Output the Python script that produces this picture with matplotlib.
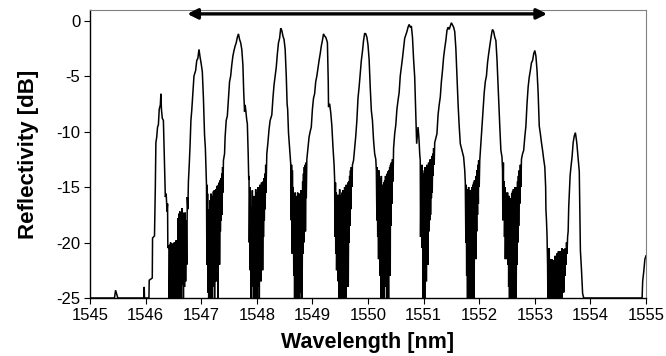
import matplotlib
matplotlib.use("Agg")
import matplotlib.pyplot as plt
import numpy as np

plt.rcParams['font.family'] = ['Liberation Sans', 'DejaVu Sans']
plt.rcParams['axes.unicode_minus'] = False

# ---- data: (wavelength nm, reflectivity dB) ----
seg_start = [
    (1545.000, -19.6), (1545.004, -25), (1545.44, -25), (1545.46, -24.3), (1545.50, -25),
    (1545.97, -25), (1545.975, -24.0), (1545.98, -25), (1546.06, -25), (1546.065, -23.4),
    (1546.12, -23.2), (1546.125, -19.6), (1546.16, -19.4), (1546.175, -15), (1546.185, -11.0),
    (1546.20, -10.5), (1546.215, -9.6), (1546.23, -9.4), (1546.245, -8.0), (1546.265, -7.6),
    (1546.275, -6.6), (1546.285, -8.0), (1546.30, -8.8), (1546.32, -9.0), (1546.34, -13),
    (1546.355, -15.9), (1546.37, -15.6), (1546.385, -17.2), (1546.395, -16.5), (1546.40, -20.5),
]
valley_1 = [
    (1546.42, -20.3), (1546.425, -25), (1546.435, -20.2), (1546.44, -25), (1546.45, -20.0),
    (1546.455, -24.5), (1546.465, -20.3), (1546.47, -25), (1546.48, -20.1), (1546.49, -24.8),
    (1546.50, -20.4), (1546.505, -25), (1546.515, -20.0), (1546.52, -24.0), (1546.53, -20.3),
    (1546.54, -25), (1546.55, -19.8), (1546.555, -24.6), (1546.565, -20.0), (1546.57, -25),
    (1546.585, -17.8), (1546.59, -24.0), (1546.60, -17.4), (1546.605, -25), (1546.615, -17.2),
    (1546.62, -22.5), (1546.63, -17.5), (1546.64, -25), (1546.655, -16.9), (1546.66, -23.8),
    (1546.67, -17.3), (1546.68, -25), (1546.69, -17.6), (1546.70, -24.0), (1546.71, -17.3),
    (1546.72, -23.5), (1546.73, -18.0), (1546.74, -22.0),
]
peak_2 = [
    (1546.75, -15.9), (1546.76, -17.0), (1546.77, -14.5), (1546.785, -13.0), (1546.80, -11.2),
    (1546.815, -9.0), (1546.83, -8.1), (1546.85, -6.5), (1546.87, -5.0), (1546.90, -4.5),
    (1546.92, -3.6), (1546.94, -3.4), (1546.96, -2.6), (1546.98, -3.3), (1547.00, -3.9),
    (1547.02, -4.6), (1547.04, -7.0), (1547.06, -10.3), (1547.075, -11.5), (1547.085, -13.3),
    (1547.095, -14.8),
]
valley_2 = [
    (1547.10, -20.0), (1547.102, -14.8), (1547.105, -22.0), (1547.115, -15.6), (1547.12, -24.5),
    (1547.13, -17.0), (1547.135, -25), (1547.145, -18.5), (1547.15, -23.0), (1547.16, -16.2),
    (1547.165, -25), (1547.175, -15.6), (1547.18, -22.5), (1547.19, -15.8), (1547.195, -25),
    (1547.205, -16.0), (1547.21, -21.5), (1547.22, -15.4), (1547.225, -24.0), (1547.235, -15.3),
    (1547.24, -25), (1547.25, -15.6), (1547.255, -20.5), (1547.265, -15.2), (1547.27, -23.5),
    (1547.28, -14.9), (1547.285, -21.0), (1547.295, -15.2), (1547.30, -25), (1547.31, -14.8),
    (1547.315, -20.0), (1547.325, -14.6), (1547.33, -22.0), (1547.34, -14.4), (1547.345, -19.0),
    (1547.355, -14.2), (1547.36, -18.0), (1547.37, -13.8), (1547.375, -17.5), (1547.385, -13.2),
    (1547.39, -15.5),
]
peak_3 = [
    (1547.40, -12.6), (1547.42, -12.0), (1547.43, -10.5), (1547.45, -9.0), (1547.47, -8.6),
    (1547.49, -7.0), (1547.51, -5.5), (1547.53, -5.0), (1547.55, -4.0), (1547.57, -3.2),
    (1547.59, -2.7), (1547.61, -2.3), (1547.63, -2.0), (1547.65, -1.5), (1547.67, -1.2),
    (1547.69, -1.7), (1547.71, -2.0), (1547.73, -2.6), (1547.75, -4.0), (1547.765, -6.5),
    (1547.78, -8.2), (1547.79, -7.6), (1547.80, -8.0), (1547.82, -9.0), (1547.83, -9.3),
    (1547.845, -12.0), (1547.855, -14.3),
]
valley_3 = [
    (1547.86, -14.0), (1547.865, -20.0), (1547.875, -15.0), (1547.88, -22.5), (1547.89, -16.8),
    (1547.895, -25), (1547.905, -17.5), (1547.91, -21.0), (1547.92, -15.3), (1547.925, -24.0),
    (1547.935, -16.0), (1547.94, -25), (1547.95, -15.8), (1547.955, -23.0), (1547.965, -16.5),
    (1547.97, -25), (1547.98, -15.2), (1547.985, -22.0), (1547.995, -16.0), (1548.00, -25),
    (1548.01, -15.5), (1548.015, -24.0), (1548.025, -15.0), (1548.03, -21.5), (1548.04, -15.2),
    (1548.045, -25), (1548.055, -14.8), (1548.06, -22.0), (1548.07, -15.5), (1548.075, -23.5),
    (1548.085, -14.6), (1548.09, -20.5), (1548.10, -15.0), (1548.105, -22.5), (1548.115, -14.5),
    (1548.12, -19.5), (1548.13, -14.2), (1548.135, -18.0), (1548.145, -13.8), (1548.15, -17.0),
    (1548.16, -13.0), (1548.165, -15.5),
]
peak_4 = [
    (1548.18, -12.0), (1548.20, -11.0), (1548.22, -9.8), (1548.24, -9.0), (1548.27, -8.5),
    (1548.29, -7.0), (1548.31, -5.8), (1548.33, -5.0), (1548.35, -4.2), (1548.37, -3.0),
    (1548.39, -2.0), (1548.41, -1.6), (1548.43, -0.7), (1548.45, -0.9), (1548.47, -1.4),
    (1548.49, -1.7), (1548.51, -2.6), (1548.53, -5.0), (1548.545, -7.5), (1548.555, -8.0),
    (1548.57, -10.1), (1548.59, -11.5), (1548.61, -12.9),
]
valley_4 = [
    (1548.62, -18.0), (1548.625, -13.0), (1548.635, -21.0), (1548.64, -13.5), (1548.65, -19.5),
    (1548.655, -15.0), (1548.665, -23.0), (1548.67, -16.0), (1548.68, -25), (1548.69, -15.5),
    (1548.695, -22.0), (1548.705, -15.8), (1548.71, -25), (1548.72, -16.0), (1548.725, -23.5),
    (1548.735, -15.5), (1548.74, -25), (1548.75, -16.2), (1548.755, -24.0), (1548.765, -15.6),
    (1548.77, -25), (1548.78, -15.8), (1548.785, -22.0), (1548.795, -15.3), (1548.80, -24.5),
    (1548.81, -15.6), (1548.815, -25), (1548.825, -14.5), (1548.83, -21.0), (1548.84, -13.8),
    (1548.845, -20.0), (1548.855, -13.2), (1548.86, -17.0), (1548.87, -13.0), (1548.875, -19.0),
    (1548.885, -12.8), (1548.89, -16.0), (1548.90, -12.5),
]
peak_5 = [
    (1548.92, -11.5), (1548.94, -10.5), (1548.96, -10.0), (1548.98, -9.6), (1549.00, -8.0),
    (1549.02, -7.0), (1549.04, -6.6), (1549.06, -5.5), (1549.08, -5.0), (1549.10, -4.3),
    (1549.12, -3.6), (1549.14, -3.0), (1549.16, -2.3), (1549.18, -1.8), (1549.20, -1.2),
    (1549.22, -1.4), (1549.24, -1.5), (1549.26, -1.8), (1549.27, -2.0), (1549.285, -5.5),
    (1549.29, -7.8), (1549.31, -7.5), (1549.33, -8.3), (1549.35, -9.5), (1549.37, -11.4),
    (1549.39, -13.0),
]
valley_5 = [
    (1549.40, -14.3), (1549.405, -19.5), (1549.415, -14.6), (1549.42, -21.0), (1549.43, -15.5),
    (1549.435, -22.5), (1549.445, -16.0), (1549.45, -20.5), (1549.46, -15.7), (1549.465, -23.5),
    (1549.475, -15.8), (1549.48, -25), (1549.49, -15.2), (1549.495, -22.0), (1549.505, -15.8),
    (1549.51, -25), (1549.52, -16.0), (1549.525, -24.0), (1549.535, -15.5), (1549.54, -25),
    (1549.55, -15.3), (1549.555, -23.0), (1549.565, -15.6), (1549.57, -25), (1549.58, -15.0),
    (1549.585, -22.5), (1549.595, -15.2), (1549.60, -25), (1549.61, -14.8), (1549.615, -24.0),
    (1549.625, -15.0), (1549.63, -21.0), (1549.64, -14.6), (1549.645, -24.0), (1549.655, -14.5),
    (1549.66, -20.0), (1549.67, -14.0), (1549.675, -18.5), (1549.685, -13.5), (1549.69, -17.0),
    (1549.70, -13.2), (1549.71, -15.0), (1549.72, -13.0),
]
peak_6 = [
    (1549.74, -12.6), (1549.76, -11.5), (1549.78, -10.4), (1549.80, -9.0), (1549.82, -7.0),
    (1549.84, -6.0), (1549.86, -4.8), (1549.88, -3.6), (1549.90, -2.8), (1549.92, -1.8),
    (1549.94, -1.15), (1549.96, -1.2), (1549.98, -1.5), (1550.00, -2.2), (1550.02, -3.5),
    (1550.04, -6.0), (1550.06, -8.1), (1550.08, -9.0), (1550.10, -10.8), (1550.12, -12.0),
    (1550.14, -12.5), (1550.15, -13.5),
]
valley_6 = [
    (1550.16, -18.0), (1550.165, -13.2), (1550.175, -19.5), (1550.18, -13.8), (1550.19, -21.5),
    (1550.195, -13.5), (1550.205, -20.0), (1550.21, -14.2), (1550.22, -23.0), (1550.225, -14.5),
    (1550.235, -25), (1550.24, -14.0), (1550.25, -22.0), (1550.255, -14.8), (1550.265, -25),
    (1550.27, -15.0), (1550.28, -23.5), (1550.285, -14.6), (1550.295, -25), (1550.30, -14.4),
    (1550.31, -21.0), (1550.315, -14.0), (1550.325, -24.0), (1550.33, -14.2), (1550.34, -25),
    (1550.345, -13.8), (1550.355, -22.5), (1550.36, -13.6), (1550.37, -25), (1550.375, -13.5),
    (1550.385, -20.5), (1550.39, -13.2), (1550.40, -23.0), (1550.405, -13.0), (1550.415, -18.5),
    (1550.42, -12.8), (1550.43, -16.5), (1550.44, -12.5), (1550.45, -14.5), (1550.46, -11.5),
]
peak_7 = [
    (1550.48, -10.2), (1550.50, -9.4), (1550.52, -8.0), (1550.54, -7.2), (1550.56, -6.5),
    (1550.58, -5.0), (1550.60, -4.2), (1550.62, -3.4), (1550.64, -2.5), (1550.66, -1.6),
    (1550.68, -1.3), (1550.70, -1.0), (1550.72, -0.6), (1550.74, -0.35), (1550.76, -0.6),
    (1550.78, -0.5), (1550.80, -1.5), (1550.82, -3.5), (1550.84, -5.1), (1550.86, -8.5),
    (1550.875, -11.1), (1550.885, -10.5), (1550.90, -9.6), (1550.915, -10.5), (1550.93, -12.0),
]
valley_7 = [
    (1550.94, -12.6), (1550.945, -19.5), (1550.955, -13.5), (1550.96, -17.5), (1550.97, -13.0),
    (1550.975, -20.5), (1550.985, -13.8), (1550.99, -25), (1551.00, -14.0), (1551.005, -22.0),
    (1551.015, -13.5), (1551.02, -25), (1551.03, -13.2), (1551.035, -21.0), (1551.045, -13.8),
    (1551.05, -23.5), (1551.06, -13.0), (1551.065, -20.0), (1551.075, -13.5), (1551.08, -22.0),
    (1551.09, -12.8), (1551.095, -19.0), (1551.105, -13.2), (1551.11, -18.0), (1551.12, -12.5),
    (1551.125, -17.5), (1551.135, -12.8), (1551.14, -16.0), (1551.15, -12.2), (1551.155, -15.5),
    (1551.165, -12.0), (1551.17, -14.0), (1551.18, -11.5), (1551.19, -13.0),
]
peak_8 = [
    (1551.20, -11.0), (1551.22, -10.6), (1551.24, -10.2), (1551.26, -8.5), (1551.28, -7.6),
    (1551.30, -6.9), (1551.32, -5.5), (1551.34, -4.5), (1551.36, -3.3), (1551.38, -2.5),
    (1551.40, -1.8), (1551.42, -0.9), (1551.44, -0.6), (1551.46, -0.8), (1551.48, -0.5),
    (1551.50, -0.2), (1551.52, -0.4), (1551.54, -0.6), (1551.56, -1.0), (1551.58, -2.5),
    (1551.60, -5.0), (1551.62, -7.5), (1551.64, -9.5), (1551.66, -11.1), (1551.68, -11.5),
    (1551.70, -11.9), (1551.72, -12.3), (1551.74, -13.5), (1551.75, -14.6),
]
valley_8 = [
    (1551.76, -20.0), (1551.765, -14.8), (1551.775, -23.0), (1551.78, -15.2), (1551.79, -25),
    (1551.795, -15.5), (1551.805, -22.5), (1551.81, -15.0), (1551.82, -25), (1551.825, -15.8),
    (1551.835, -24.0), (1551.84, -15.3), (1551.85, -25), (1551.855, -15.6), (1551.865, -21.5),
    (1551.87, -15.0), (1551.88, -25), (1551.885, -14.8), (1551.895, -22.0), (1551.90, -14.6),
    (1551.91, -25), (1551.915, -14.4), (1551.925, -20.0), (1551.93, -14.6), (1551.94, -21.5),
    (1551.945, -14.0), (1551.955, -19.0), (1551.96, -13.5), (1551.97, -17.5), (1551.975, -13.0),
    (1551.985, -16.5), (1551.99, -12.6), (1552.00, -15.0),
]
peak_9 = [
    (1552.01, -12.6), (1552.03, -11.1), (1552.05, -9.5), (1552.07, -8.0), (1552.09, -6.5),
    (1552.11, -5.5), (1552.13, -5.0), (1552.15, -3.8), (1552.17, -3.0), (1552.19, -2.3),
    (1552.21, -1.6), (1552.23, -1.0), (1552.24, -0.8), (1552.26, -1.0), (1552.28, -1.5),
    (1552.30, -1.8), (1552.32, -3.5), (1552.34, -6.0), (1552.35, -7.2), (1552.37, -9.5),
    (1552.39, -11.7), (1552.41, -12.3),
]
valley_9 = [
    (1552.42, -13.5), (1552.425, -18.0), (1552.435, -12.8), (1552.44, -17.5), (1552.45, -14.5),
    (1552.455, -19.5), (1552.465, -15.0), (1552.47, -21.5), (1552.48, -15.5), (1552.485, -20.0),
    (1552.495, -16.0), (1552.50, -21.5), (1552.51, -15.5), (1552.515, -22.0), (1552.525, -16.5),
    (1552.53, -24.0), (1552.54, -15.8), (1552.545, -25), (1552.555, -16.0), (1552.56, -23.0),
    (1552.57, -16.3), (1552.575, -25), (1552.585, -15.6), (1552.59, -25), (1552.60, -15.4),
    (1552.605, -24.0), (1552.615, -15.2), (1552.62, -25), (1552.63, -15.5), (1552.635, -25),
    (1552.645, -15.0), (1552.65, -23.0), (1552.66, -15.2), (1552.665, -25), (1552.675, -15.0),
    (1552.68, -22.0), (1552.69, -14.5), (1552.695, -20.0), (1552.705, -14.0), (1552.71, -18.5),
    (1552.72, -13.5), (1552.73, -16.5), (1552.74, -13.0), (1552.75, -15.0), (1552.76, -12.5),
]
peak_10 = [
    (1552.78, -12.0), (1552.80, -11.7), (1552.82, -10.5), (1552.84, -9.5), (1552.86, -7.5),
    (1552.88, -6.0), (1552.90, -5.1), (1552.92, -4.5), (1552.94, -3.8), (1552.96, -3.6),
    (1552.98, -3.0), (1553.00, -2.7), (1553.02, -3.2), (1553.04, -4.5), (1553.06, -6.5),
    (1553.08, -9.5), (1553.10, -10.2), (1553.12, -11.0), (1553.14, -11.7), (1553.16, -12.5),
    (1553.18, -13.2), (1553.195, -15.0), (1553.20, -17.0), (1553.21, -18.0), (1553.22, -19.4),
]
valley_10 = [
    (1553.23, -22.0), (1553.235, -25), (1553.245, -21.0), (1553.25, -24.5), (1553.26, -20.5),
    (1553.265, -25), (1553.275, -21.5), (1553.28, -25), (1553.29, -21.8), (1553.295, -24.0),
    (1553.305, -21.5), (1553.31, -25), (1553.32, -22.0), (1553.325, -25), (1553.335, -21.6),
    (1553.34, -24.5), (1553.35, -21.8), (1553.355, -25), (1553.365, -21.2), (1553.37, -25),
    (1553.38, -21.5), (1553.385, -24.0), (1553.395, -21.0), (1553.40, -25), (1553.41, -21.3),
    (1553.415, -24.5), (1553.425, -20.8), (1553.43, -25), (1553.44, -21.2), (1553.445, -23.5),
    (1553.455, -20.8), (1553.46, -25), (1553.47, -21.0), (1553.475, -24.0), (1553.485, -20.5),
    (1553.49, -25), (1553.50, -21.0), (1553.505, -23.0), (1553.515, -20.6), (1553.52, -24.5),
    (1553.53, -21.0), (1553.54, -23.0), (1553.55, -20.5), (1553.56, -22.0), (1553.57, -20.0),
    (1553.58, -21.0),
]
peak_11_end = [
    (1553.59, -19.5), (1553.60, -19.0), (1553.61, -16.8), (1553.62, -15.6), (1553.635, -14.0),
    (1553.65, -13.2), (1553.67, -12.3), (1553.69, -11.0), (1553.71, -10.4), (1553.73, -10.1),
    (1553.75, -10.8), (1553.76, -11.3), (1553.78, -12.5), (1553.80, -13.6), (1553.81, -17.0),
    (1553.82, -20.7), (1553.84, -22.5), (1553.86, -24.6), (1553.88, -25), (1554.93, -25),
    (1554.94, -23.5), (1554.96, -22.6), (1554.98, -21.5), (1555.0, -21.2),
]

segments = [seg_start, valley_1, peak_2, valley_2, peak_3, valley_3, peak_4, valley_4,
            peak_5, valley_5, peak_6, valley_6, peak_7, valley_7, peak_8, valley_8,
            peak_9, valley_9, peak_10, valley_10, peak_11_end]

x_ticks = [1545, 1546, 1547, 1548, 1549, 1550, 1551, 1552, 1553, 1554, 1555]
y_ticks = [-25, -20, -15, -10, -5, 0]
arrow_span = (1546.75, 1553.22)
arrow_level = 0.6

pts = [p for seg in segments for p in seg]
wl = np.array([p[0] for p in pts])
refl = np.array([p[1] for p in pts])

fig = plt.figure(figsize=(6.66, 3.56), dpi=100)
ax = fig.add_axes([90/666, 1 - 298/356, (646 - 90)/666, (298 - 10)/356])

ax.plot(wl, refl, color='black', lw=1.1, solid_joinstyle='miter')

ax.set_xlim(1545, 1555)
ax.set_ylim(-25, 0.95)
ax.set_xticks(x_ticks)
ax.set_yticks(y_ticks)
ax.set_xticklabels([str(v) for v in x_ticks])
ax.set_yticklabels([str(v) for v in y_ticks])
ax.tick_params(direction='out', length=4, width=0.8, labelsize=12, pad=3, colors='black')

for s in ['left', 'bottom']:
    ax.spines[s].set_color('black')
    ax.spines[s].set_linewidth(1.0)
for s in ['top', 'right']:
    ax.spines[s].set_color('#808080')
    ax.spines[s].set_linewidth(0.8)

ax.set_xlabel('Wavelength [nm]', fontsize=15.5, fontweight='bold', labelpad=7)
ax.set_ylabel('Reflectivity [dB]', fontsize=16, fontweight='bold', labelpad=12)

ax.annotate('', xy=(arrow_span[0], arrow_level), xytext=(arrow_span[1], arrow_level),
            arrowprops=dict(arrowstyle='<|-|>', lw=2.4, color='black',
                            mutation_scale=15, shrinkA=0, shrinkB=0))

fig.savefig('out.png', dpi=100)
